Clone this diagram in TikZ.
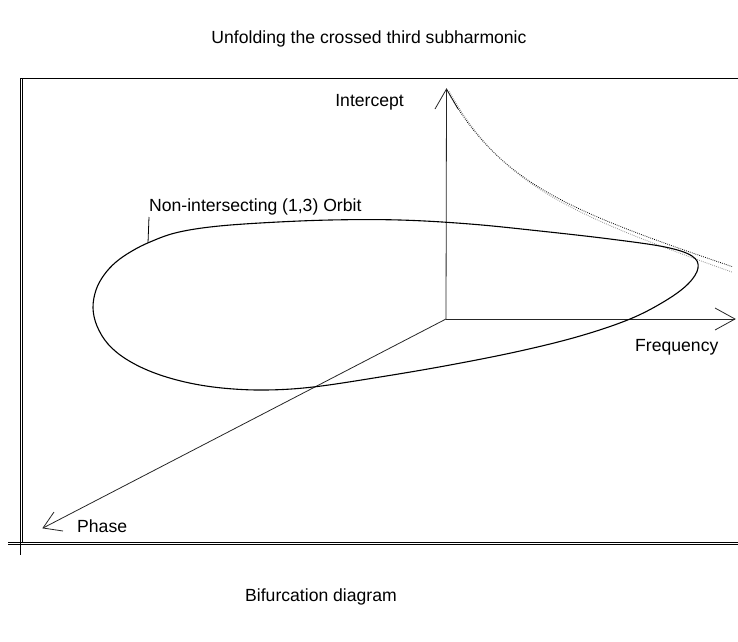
\documentclass[tikz,border=0pt]{standalone}
\usepackage{fontspec}
\setmainfont{Liberation Sans}
\begin{document}
\begin{tikzpicture}[x=1pt,y=-1pt,
  lbl/.style={inner sep=0pt,font=\fontsize{17.6}{21}\selectfont},
  frame/.style={line width=1pt,black},
  axis/.style={line width=0.8pt,black!85},
  orbit/.style={line width=1.1pt,black},
  dotcurve/.style={line width=0.8pt,dash pattern=on 0.8pt off 1.2pt}]
\useasboundingbox (0,0) rectangle (738,641);
% frame
\coordinate (fTL) at (20,78);
\coordinate (fTR) at (738,78);
\coordinate (fBL) at (20,555);
\draw[frame] (fTL) -- (fTR);
\draw[frame] (fTL) -- (fBL);
\draw[frame] (22,78) -- (22,542);
\draw[frame] (8,542) -- (738,542);
\draw[frame] (8,544.5) -- (738,544.5);
% axes
\coordinate (O) at (446,319);
\coordinate (I) at (446.5,89);
\coordinate (F) at (735,319);
\coordinate (P) at (43,528);
\draw[axis] (O) -- (I);
\draw[axis] (O) -- (F);
\draw[axis] (O) -- (P);
\draw[axis] (435,109) -- (I) -- (458,109);
\draw[axis] (715,308) -- (F) -- (715,330);
\draw[axis] (54,512) -- (P) -- (63,531);
% dotted curves
\draw[dotcurve,black] plot[domain=447:732,samples=80] (\x,{90+0.33*(\x-447)+83*(1-exp(-(\x-447)/56))});
\draw[dotcurve,black!45] plot[domain=449:732,samples=80] (\x,{91+0.345*(\x-449)+84*(1-exp(-(\x-449)/57))});
% orbit
\draw[orbit] plot[smooth cycle,tension=0.6] coordinates {
 (93,308) (96,290) (104,275) (116,262) (132,251) (150,242) (175,233) (210,227) (260,223)
 (330,220) (400,220) (470,224) (540,231) (610,239) (665,247) (692,256) (698,268)
 (688,284) (665,301) (630,319) (580,336) (520,351) (450,365) (380,377) (313,387) (265,390)
 (222,388) (185,382) (152,372) (126,359) (108,344) (97,326)};
% leader
\coordinate (lead) at (148,243);
\draw[line width=0.8pt] (lead) -- (149,217);
% labels
\node[lbl] (title) at (369,39) {Unfolding the crossed third subharmonic};
\node[lbl,anchor=east] (int) at (404,102) {Intercept};
\node[lbl,anchor=west] (orb) at (149,207) {Non-intersecting (1,3) Orbit};
\node[lbl,anchor=west] (freq) at (635,347) {Frequency};
\node[lbl,anchor=west] (ph) at (77,526) {Phase};
\node[lbl] (bif) at (321,597) {Bifurcation diagram};
\end{tikzpicture}
\end{document}
